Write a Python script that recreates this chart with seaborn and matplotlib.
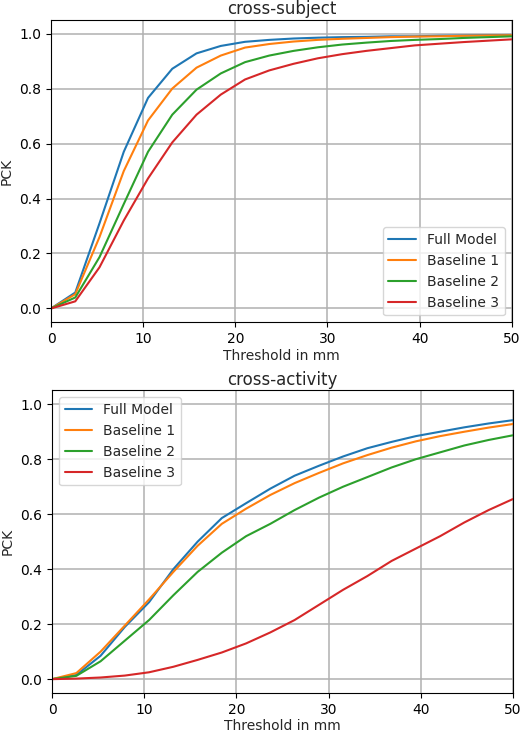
import numpy as np
import pandas as pd
import matplotlib
matplotlib.use("Agg")
import matplotlib.pyplot as plt
import seaborn as sns

# thresholds (mm), 20 evaluation points from 0 to 50
thresholds = np.linspace(0, 50, 20)
models = ["Full Model", "Baseline 1", "Baseline 2", "Baseline 3"]

# cross-subject PCK
subj_full = [0.0, 0.058, 0.31, 0.57, 0.766, 0.872, 0.928, 0.955, 0.97, 0.977,
             0.982, 0.985, 0.987, 0.988, 0.99, 0.99, 0.992, 0.993, 0.994, 0.995]
subj_b1 = [0.0, 0.052, 0.26, 0.50, 0.684, 0.80, 0.876, 0.92, 0.949, 0.962,
           0.971, 0.977, 0.981, 0.984, 0.987, 0.989, 0.99, 0.992, 0.993, 0.994]
subj_b2 = [0.0, 0.04, 0.187, 0.38, 0.57, 0.705, 0.796, 0.855, 0.896, 0.92,
           0.937, 0.95, 0.96, 0.967, 0.973, 0.977, 0.98, 0.984, 0.987, 0.99]
subj_b3 = [0.0, 0.026, 0.15, 0.32, 0.473, 0.604, 0.705, 0.778, 0.833, 0.866,
           0.89, 0.91, 0.925, 0.937, 0.947, 0.957, 0.963, 0.969, 0.974, 0.979]

# cross-activity PCK
act_full = [0.0, 0.015, 0.085, 0.19, 0.28, 0.40, 0.50, 0.586, 0.64, 0.693,
            0.74, 0.776, 0.81, 0.84, 0.863, 0.884, 0.90, 0.916, 0.93, 0.942]
act_b1 = [0.0, 0.022, 0.10, 0.195, 0.29, 0.39, 0.485, 0.565, 0.62, 0.67,
          0.713, 0.75, 0.785, 0.815, 0.842, 0.865, 0.884, 0.90, 0.915, 0.928]
act_b2 = [0.0, 0.012, 0.065, 0.14, 0.215, 0.305, 0.39, 0.46, 0.52, 0.565,
          0.615, 0.66, 0.70, 0.735, 0.77, 0.80, 0.825, 0.85, 0.87, 0.887]
act_b3 = [0.0, 0.002, 0.006, 0.013, 0.025, 0.045, 0.07, 0.097, 0.13, 0.17,
          0.215, 0.27, 0.325, 0.375, 0.43, 0.475, 0.52, 0.57, 0.615, 0.655]


def to_long(series):
    rows = []
    for name, vals in zip(models, series):
        for t, v in zip(thresholds, vals):
            rows.append({"threshold": t, "pck": v, "model": name})
    return pd.DataFrame(rows)


subj_df = to_long([subj_full, subj_b1, subj_b2, subj_b3])
act_df = to_long([act_full, act_b1, act_b2, act_b3])

sns.set_style("ticks", {"axes.grid": True, "grid.color": "#b0b0b0",
                        "axes.edgecolor": "black", "xtick.color": "black",
                        "ytick.color": "black"})
plt.rcParams["font.family"] = ["DejaVu Sans"]
plt.rcParams["grid.linewidth"] = 1.1
plt.rcParams["font.size"] = 10

palette = ["#1f77b4", "#ff7f0e", "#2ca02c", "#d62728"]

fig = plt.figure(figsize=(5.26, 7.34), dpi=100)
ax1 = fig.add_axes([0.097, 0.561, 0.876, 0.412])
ax2 = fig.add_axes([0.099, 0.056, 0.876, 0.412])

for ax, df, title, loc in [(ax1, subj_df, "cross-subject", "lower right"),
                           (ax2, act_df, "cross-activity", "upper left")]:
    sns.lineplot(data=df, x="threshold", y="pck", hue="model", palette=palette,
                 linewidth=1.5, ax=ax)
    ax.set_xlim(0, 50)
    ax.set_ylim(-0.05, 1.05)
    ax.set_xticks([0, 10, 20, 30, 40, 50])
    ax.set_yticks([0.0, 0.2, 0.4, 0.6, 0.8, 1.0])
    ax.set_xlabel("Threshold in mm", fontsize=10, labelpad=2)
    ax.set_ylabel("PCK", fontsize=10)
    ax.set_title(title, fontsize=12, pad=4)
    ax.tick_params(labelsize=10, length=3.5, width=0.8)
    for s in ax.spines.values():
        s.set_linewidth(0.8)
    ax.legend(loc=loc, fontsize=10, title=None, framealpha=0.8)

fig.savefig("out.png", dpi=100)
